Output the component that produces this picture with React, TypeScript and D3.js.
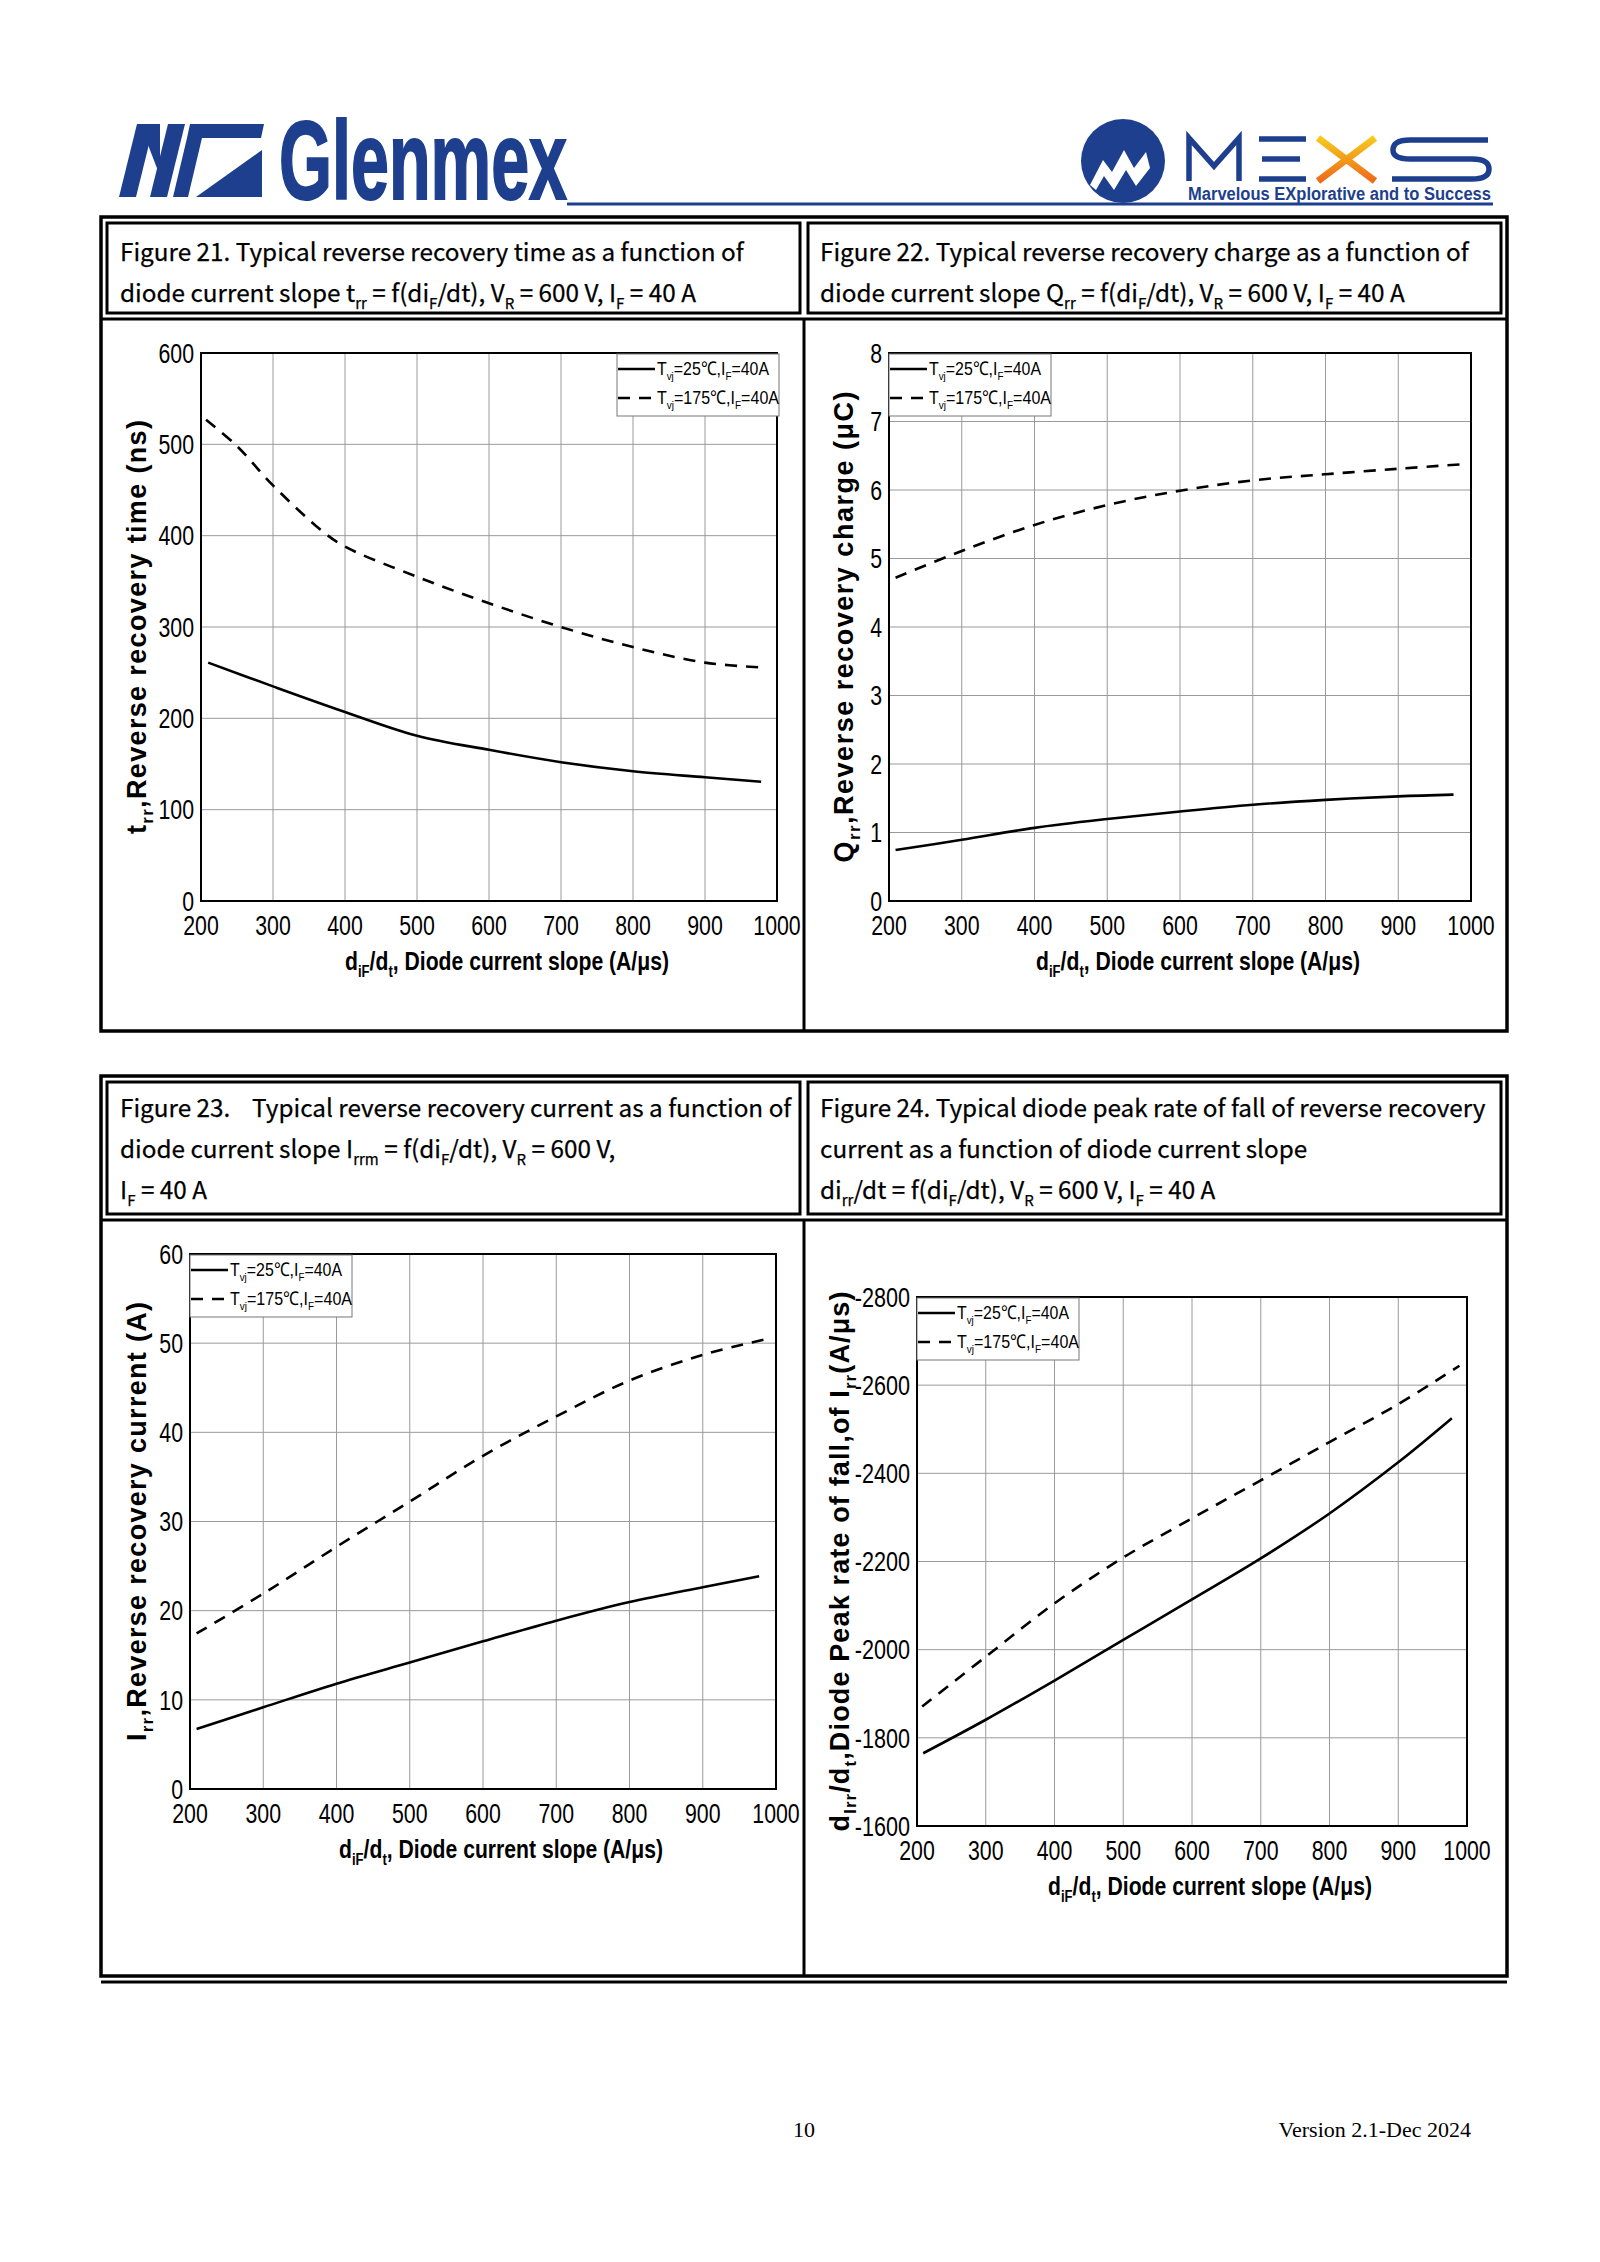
import React, { useEffect, useRef } from 'react';
import * as d3 from 'd3';

// ---- data ----
const slopeTicks = [200, 300, 400, 500, 600, 700, 800, 900, 1000];

// Figure 21: t_rr (ns)
const trrTicks = [0, 100, 200, 300, 400, 500, 600];
const trrSlope25 = [210, 300, 400, 500, 600, 700, 800, 900, 978];
const trr25 = [261, 235, 207, 181, 165.5, 152, 142, 135.5, 130.6];
const trrSlope175 = [207, 250, 300, 370, 400, 500, 600, 700, 800, 900, 986];
const trr175 = [527, 498, 455, 404, 388, 355, 326, 300, 278, 261, 255.5];

// Figure 22: Q_rr (uC)
const qrrTicks = [0, 1, 2, 3, 4, 5, 6, 7, 8];
const qrrSlope25 = [209, 300, 400, 500, 600, 700, 800, 900, 976];
const qrr25 = [0.744, 0.893, 1.068, 1.197, 1.307, 1.405, 1.476, 1.528, 1.553];
const qrrSlope175 = [209, 300, 400, 500, 600, 700, 800, 900, 987];
const qrr175 = [4.72, 5.11, 5.49, 5.78, 5.99, 6.14, 6.23, 6.31, 6.375];

// Figure 23: I_rr (A)
const irrTicks = [0, 10, 20, 30, 40, 50, 60];
const irrSlope25 = [209, 300, 400, 500, 600, 700, 800, 900, 977];
const irr25 = [6.73, 9.16, 11.81, 14.19, 16.56, 18.88, 20.97, 22.63, 23.85];
const irrSlope175 = [209, 300, 400, 500, 600, 700, 800, 900, 989];
const irr175 = [17.44, 21.91, 27.16, 32.23, 37.37, 41.78, 45.81, 48.68, 50.5];

// Figure 24: di_rr/dt (A/us)
const dirrTicks = [-2800, -2600, -2400, -2200, -2000, -1800, -1600];
const dirrSlope25 = [209, 300, 400, 500, 600, 700, 800, 900, 978];
const dirr25 = [-1765, -1841, -1930, -2022, -2114, -2207, -2309, -2425, -2525];
const dirrSlope175 = [207.5, 300, 400, 500, 600, 700, 800, 900, 989];
const dirr175 = [-1871, -1984, -2105, -2209, -2298, -2384, -2471, -2557, -2644];

type Part = [string, boolean];

const legend25: Part[] = [['T', false], ['vj', true], ['=25℃,I', false], ['F', true], ['=40A', false]];
const legend175: Part[] = [['T', false], ['vj', true], ['=175℃,I', false], ['F', true], ['=40A', false]];
const xTitle: Part[] = [['d', false], ['iF', true], ['/d', false], ['t', true], [', Diode current slope (A/μs)', false]];

const NARROW = "'Liberation Sans Narrow', 'Arial Narrow', 'Liberation Sans', Arial, sans-serif";
const ARIAL = "'Liberation Sans', Arial, sans-serif";
const TITLE_FONT = "'Noto Sans CJK SC', 'Noto Sans', sans-serif";
const BLUE = '#1d3f8e';

const rich = (text: any, parts: Part[], size: number) => {
  parts.forEach(([s, sub], i) => {
    const prevSub = i > 0 && parts[i - 1][1];
    const t = text.append('tspan').text(s);
    if (sub) {
      t.attr('font-size', size * 0.62);
      if (!prevSub) t.attr('dy', size * 0.28);
    } else if (prevSub) {
      t.attr('dy', -size * 0.28);
    }
  });
};

// width of a number label set in a narrow grotesque
const numWidth = (s: string, size: number) =>
  s.split('').reduce((w, ch) => w + (ch === '-' ? 0.3 : 0.456) * size, 0);

const App: React.FC = () => {
  const svgRef = useRef<SVGSVGElement>(null);

  useEffect(() => {
    if (!svgRef.current) return;
    const svg = d3.select(svgRef.current);
    svg.selectAll('*').remove();

    drawHeader(svg);
    drawFrames(svg);
    drawTitles(svg);

    const charts = [
      {
        x0: 201, x1: 777, y0: 353, y1: 901, yDomain: [0, 600], yTicks: trrTicks,
        s25: d3.zip(trrSlope25, trr25), s175: d3.zip(trrSlope175, trr175), legend: 'right',
        yTitle: [['t', false], ['rr', true], [',Reverse recovery time (ns)', false]] as Part[],
        yTitleX: 136, yTitleLen: 414
      },
      {
        x0: 889, x1: 1471, y0: 353, y1: 901, yDomain: [0, 8], yTicks: qrrTicks,
        s25: d3.zip(qrrSlope25, qrr25), s175: d3.zip(qrrSlope175, qrr175), legend: 'left',
        yTitle: [['Q', false], ['rr', true], [',Reverse recovery charge (μC)', false]] as Part[],
        yTitleX: 843, yTitleLen: 471
      },
      {
        x0: 190, x1: 776, y0: 1254, y1: 1789, yDomain: [0, 60], yTicks: irrTicks,
        s25: d3.zip(irrSlope25, irr25), s175: d3.zip(irrSlope175, irr175), legend: 'left',
        yTitle: [['I', false], ['rr', true], [',Reverse recovery current (A)', false]] as Part[],
        yTitleX: 136, yTitleLen: 439
      },
      {
        x0: 917, x1: 1467, y0: 1297, y1: 1826, yDomain: [-1600, -2800], yTicks: dirrTicks,
        s25: d3.zip(dirrSlope25, dirr25), s175: d3.zip(dirrSlope175, dirr175), legend: 'left',
        yTitle: [['d', false], ['Irr', true], ['/d', false], ['t', true], [',Diode Peak rate of fall,of I', false], ['rr', true], ['(A/μs)', false]] as Part[],
        yTitleX: 839, yTitleLen: 540
      }
    ];

    charts.forEach(c => drawChart(svg, c));

    // footer
    svg.append('text').attr('x', 804).attr('y', 2137).attr('text-anchor', 'middle')
      .attr('font-family', "'Liberation Serif', 'Times New Roman', serif").attr('font-size', 22).text('10');
    svg.append('text').attr('x', 1471).attr('y', 2137).attr('text-anchor', 'end')
      .attr('font-family', "'Liberation Serif', 'Times New Roman', serif").attr('font-size', 22)
      .text('Version 2.1-Dec 2024');
  }, []);

  const drawChart = (svg: any, c: any) => {
    const g = svg.append('g');
    const x = d3.scaleLinear().domain([200, 1000]).range([c.x0, c.x1]);
    const y = d3.scaleLinear().domain(c.yDomain).range([c.y1, c.y0]);

    // grid
    g.selectAll('.vgrid').data(slopeTicks).enter().append('line')
      .attr('x1', (d: number) => x(d)).attr('x2', (d: number) => x(d))
      .attr('y1', c.y0).attr('y2', c.y1).attr('stroke', '#9a9a9a').attr('stroke-width', 1);
    g.selectAll('.hgrid').data(c.yTicks).enter().append('line')
      .attr('x1', c.x0).attr('x2', c.x1)
      .attr('y1', (d: number) => y(d)).attr('y2', (d: number) => y(d))
      .attr('stroke', '#9a9a9a').attr('stroke-width', 1);

    // curves
    const line = d3.line<any>().x(d => x(d[0])).y(d => y(d[1])).curve(d3.curveCatmullRom.alpha(0.5));
    g.append('path').datum(c.s25).attr('d', line).attr('fill', 'none')
      .attr('stroke', '#000').attr('stroke-width', 2.6);
    g.append('path').datum(c.s175).attr('d', line).attr('fill', 'none')
      .attr('stroke', '#000').attr('stroke-width', 2.6).attr('stroke-dasharray', '12,9');

    // frame
    g.append('rect').attr('x', c.x0).attr('y', c.y0).attr('width', c.x1 - c.x0).attr('height', c.y1 - c.y0)
      .attr('fill', 'none').attr('stroke', '#000').attr('stroke-width', 2);

    // tick labels
    const fs = 27;
    g.selectAll('.xt').data(slopeTicks).enter().append('text')
      .attr('x', (d: number) => x(d)).attr('y', c.y1 + 34).attr('text-anchor', 'middle')
      .attr('font-family', NARROW).attr('font-size', fs)
      .attr('textLength', (d: number) => numWidth(String(d), fs - 1)).attr('lengthAdjust', 'spacingAndGlyphs')
      .text((d: number) => d);
    g.selectAll('.yt').data(c.yTicks).enter().append('text')
      .attr('x', c.x0 - 7).attr('y', (d: number) => y(d)).attr('dy', '0.36em').attr('text-anchor', 'end')
      .attr('font-family', NARROW).attr('font-size', fs)
      .attr('textLength', (d: number) => numWidth(String(d), fs - 1)).attr('lengthAdjust', 'spacingAndGlyphs')
      .text((d: number) => d);

    // x title
    const xt = g.append('text').attr('x', (c.x0 + c.x1) / 2 + 18).attr('y', c.y1 + 69)
      .attr('text-anchor', 'middle').attr('font-family', NARROW).attr('font-weight', 'bold')
      .attr('font-size', 26).attr('textLength', 324).attr('lengthAdjust', 'spacingAndGlyphs');
    rich(xt, xTitle, 26);

    // y title
    const yc = (c.y0 + c.y1) / 2;
    const yt = g.append('text').attr('transform', `translate(${c.yTitleX},${yc}) rotate(-90)`)
      .attr('dy', '0.36em').attr('text-anchor', 'middle').attr('font-family', ARIAL)
      .attr('font-weight', 'bold').attr('font-size', 27)
      .attr('textLength', c.yTitleLen).attr('lengthAdjust', 'spacing');
    rich(yt, c.yTitle, 27);

    // legend
    const lw = 162, lh = 62;
    const lx = c.legend === 'right' ? c.x1 + 2 - lw : c.x0;
    const ly = c.y0 + 1;
    const lg = g.append('g');
    lg.append('rect').attr('x', lx).attr('y', ly).attr('width', lw).attr('height', lh)
      .attr('fill', '#fff').attr('stroke', '#777').attr('stroke-width', 1);
    [[legend25, null, 112], [legend175, '12,9', 122]].forEach(([parts, dash, len]: any, i: number) => {
      const yy = ly + 15 + i * 29;
      const l = lg.append('line').attr('x1', lx + 1).attr('x2', lx + 38).attr('y1', yy).attr('y2', yy)
        .attr('stroke', '#000').attr('stroke-width', 2.6);
      if (dash) l.attr('stroke-dasharray', dash);
      const t = lg.append('text').attr('x', lx + 40).attr('y', yy + 6)
        .attr('font-family', NARROW).attr('font-size', 19)
        .attr('textLength', len).attr('lengthAdjust', 'spacingAndGlyphs');
      rich(t, parts, 19);
    });
  };

  const drawFrames = (svg: any) => {
    const g = svg.append('g').attr('fill', 'none').attr('stroke', '#000');
    const blocks = [
      { top: 217, titleBottom: 313, bottom: 1031, double: false },
      { top: 1076, titleBottom: 1214, bottom: 1976, double: true }
    ];
    blocks.forEach(b => {
      g.append('rect').attr('x', 101).attr('y', b.top).attr('width', 1406).attr('height', b.bottom - b.top)
        .attr('stroke-width', 3.5);
      g.append('rect').attr('x', 107).attr('y', b.top + 6).attr('width', 693).attr('height', b.titleBottom - b.top - 6)
        .attr('stroke-width', 3);
      g.append('rect').attr('x', 808).attr('y', b.top + 6).attr('width', 693).attr('height', b.titleBottom - b.top - 6)
        .attr('stroke-width', 3);
      g.append('line').attr('x1', 101).attr('x2', 1507).attr('y1', b.titleBottom + 6).attr('y2', b.titleBottom + 6)
        .attr('stroke-width', 3);
      g.append('line').attr('x1', 804).attr('x2', 804).attr('y1', b.titleBottom + 6).attr('y2', b.bottom)
        .attr('stroke-width', 3);
      if (b.double) {
        g.append('line').attr('x1', 101).attr('x2', 1507).attr('y1', b.bottom + 6).attr('y2', b.bottom + 6)
          .attr('stroke-width', 3);
      }
    });
  };

  const drawTitles = (svg: any) => {
    const titles: { x: number; y: number; lines: Part[][] }[] = [
      {
        x: 120, y: 261, lines: [
          [['Figure 21. Typical reverse recovery time as a function of', false]],
          [['diode current slope t', false], ['rr', true], [' = f(di', false], ['F', true], ['/dt), V', false], ['R', true], [' = 600 V, I', false], ['F', true], [' = 40 A', false]]
        ]
      },
      {
        x: 820, y: 261, lines: [
          [['Figure 22. Typical reverse recovery charge as a function of', false]],
          [['diode current slope Q', false], ['rr', true], [' = f(di', false], ['F', true], ['/dt), V', false], ['R', true], [' = 600 V, I', false], ['F', true], [' = 40 A', false]]
        ]
      },
      {
        x: 120, y: 1117, lines: [
          [['Figure 23.\u00a0\u00a0\u00a0\u00a0Typical reverse recovery current as a function of', false]],
          [['diode current slope I', false], ['rrm', true], [' = f(di', false], ['F', true], ['/dt), V', false], ['R', true], [' = 600 V,', false]],
          [['I', false], ['F', true], [' = 40 A', false]]
        ]
      },
      {
        x: 820, y: 1117, lines: [
          [['Figure 24. Typical diode peak rate of fall of reverse recovery', false]],
          [['current as a function of diode current slope', false]],
          [['di', false], ['rr', true], ['/dt = f(di', false], ['F', true], ['/dt), V', false], ['R', true], [' = 600 V, I', false], ['F', true], [' = 40 A', false]]
        ]
      }
    ];
    titles.forEach(t => {
      t.lines.forEach((parts, i) => {
        const txt = svg.append('text').attr('x', t.x).attr('y', t.y + i * 41)
          .attr('font-family', TITLE_FONT).attr('font-size', 24.3).attr('fill', '#000')
          .attr('stroke', '#000').attr('stroke-width', 0.25)
          .attr('xml:space', 'preserve');
        rich(txt, parts, 24.3);
      });
    });
  };

  const drawHeader = (svg: any) => {
    const g = svg.append('g');
    // Glenmex mark (stylised italic "MG")
    const polys = [
      [[119, 197], [136, 197], [154, 124], [137, 124]],
      [[140, 124], [160, 124], [160, 176]],
      [[150, 197], [167, 197], [185, 124], [168, 124]],
      [[190, 124], [264, 124], [261, 138], [187, 138]],
      [[187, 138], [202, 138], [188, 197], [173, 197]],
      [[196, 197], [262, 197], [262, 150]]
    ];
    polys.forEach(p => g.append('polygon').attr('points', p.map(q => q.join(',')).join(' ')).attr('fill', BLUE));
    g.append('text').attr('x', 279).attr('y', 199).attr('font-family', NARROW).attr('font-weight', 'bold')
      .attr('font-size', 111).attr('fill', BLUE).attr('stroke', BLUE).attr('stroke-width', 2)
      .attr('textLength', 288).attr('lengthAdjust', 'spacingAndGlyphs')
      .text('Glenmex');

    // header rule
    g.append('line').attr('x1', 567).attr('x2', 1493).attr('y1', 204).attr('y2', 204)
      .attr('stroke', BLUE).attr('stroke-width', 3);

    // MEXS mark
    g.append('circle').attr('cx', 1123).attr('cy', 161).attr('r', 42).attr('fill', BLUE);
    g.append('polygon').attr('points', '1090,185 1103,160 1112,172 1124,150 1134,168 1146,152 1150,168 1136,186 1126,170 1114,190 1104,176 1096,190')
      .attr('fill', '#fff');

    const defs = svg.append('defs');
    const grad = defs.append('linearGradient').attr('id', 'xgrad').attr('x1', 0).attr('y1', 0).attr('x2', 0).attr('y2', 1);
    grad.append('stop').attr('offset', '0%').attr('stop-color', '#f7c91c');
    grad.append('stop').attr('offset', '100%').attr('stop-color', '#ee6a1a');

    const m = g.append('g').attr('fill', 'none').attr('stroke-width', 5.5).attr('stroke-linejoin', 'miter');
    m.append('path').attr('d', 'M1189,181 V138 L1214,166 L1239,138 V181').attr('stroke', BLUE);
    m.append('path').attr('d', 'M1306,139 H1259 M1306,179 H1259 M1262,159 H1300').attr('stroke', BLUE);
    m.append('path').attr('d', 'M1318,138 L1375,181 M1375,138 L1318,181').attr('stroke', 'url(#xgrad)').attr('stroke-width', 7);
    m.append('path').attr('d', 'M1488,140 H1410 Q1393,140 1393,150 Q1393,159 1410,159 H1472 Q1489,159 1489,169 Q1489,179 1472,179 H1392')
      .attr('stroke', BLUE);

    g.append('text').attr('x', 1188).attr('y', 200).attr('font-family', NARROW).attr('font-weight', 'bold')
      .attr('font-size', 18).attr('fill', BLUE).attr('textLength', 303).attr('lengthAdjust', 'spacingAndGlyphs')
      .text('Marvelous EXplorative and to Success');
  };

  return (
    <div style={{ position: 'absolute', left: 0, top: 0, background: '#fff' }}>
      <svg ref={svgRef} width={1600} height={2262} style={{ display: 'block' }} />
    </div>
  );
};

export default App;
